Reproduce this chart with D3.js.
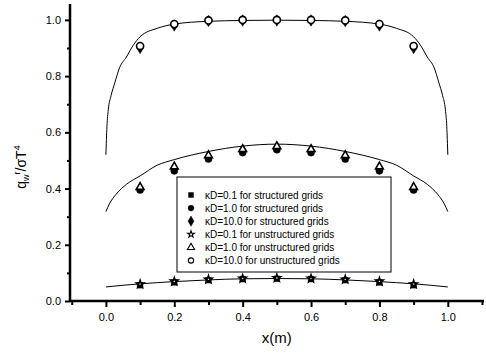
<!DOCTYPE html>
<html>
<head>
  <meta charset="utf-8" />
  <script src="https://d3js.org/d3.v7.min.js"></script>
  <style>
    body { margin: 0; background: #fff; }
    text { font-family: "Liberation Sans", Arial, sans-serif; fill: #000; }
  </style>
</head>
<body>
<script>
// marker positions
var xs = [0.1, 0.2, 0.3, 0.4, 0.5, 0.6, 0.7, 0.8, 0.9];
var s01 = [0.056, 0.066, 0.074, 0.078, 0.079, 0.078, 0.074, 0.066, 0.056];
var u01 = [0.060, 0.070, 0.077, 0.080, 0.082, 0.080, 0.077, 0.070, 0.060];
var s1  = [0.395, 0.463, 0.505, 0.528, 0.538, 0.528, 0.505, 0.463, 0.395];
var u1  = [0.405, 0.478, 0.518, 0.540, 0.550, 0.540, 0.518, 0.478, 0.405];
var s10 = [0.900, 0.980, 0.996, 0.998, 0.998, 0.998, 0.996, 0.980, 0.900];
var u10 = [0.907, 0.985, 0.998, 1.000, 1.000, 1.000, 0.998, 0.985, 0.907];

// solid curves
var cx10 = [0, 0.003, 0.007, 0.015, 0.026, 0.04, 0.06, 0.08, 0.1, 0.15, 0.2, 0.3, 0.4, 0.5, 0.6, 0.7, 0.8, 0.85, 0.9, 0.92, 0.94, 0.96, 0.974, 0.985, 0.993, 0.997, 1.0];
var cy10 = [0.52, 0.62, 0.68, 0.73, 0.776, 0.83, 0.868, 0.91, 0.94, 0.97, 0.985, 0.995, 0.998, 0.999, 0.998, 0.995, 0.985, 0.97, 0.94, 0.91, 0.868, 0.83, 0.776, 0.73, 0.68, 0.62, 0.52];
var cx1 = [0, 0.01, 0.03, 0.06, 0.1, 0.15, 0.2, 0.3, 0.4, 0.5, 0.6, 0.7, 0.8, 0.85, 0.9, 0.94, 0.97, 0.99, 1.0];
var cy1 = [0.318, 0.345, 0.38, 0.415, 0.445, 0.483, 0.503, 0.532, 0.551, 0.558, 0.551, 0.532, 0.503, 0.483, 0.445, 0.415, 0.38, 0.345, 0.318];
var cx01 = [0, 0.05, 0.1, 0.2, 0.3, 0.4, 0.5, 0.6, 0.7, 0.8, 0.9, 0.95, 1.0];
var cy01 = [0.050, 0.056, 0.061, 0.069, 0.075, 0.079, 0.080, 0.079, 0.075, 0.069, 0.061, 0.056, 0.050];

var xTicks = [0.0, 0.2, 0.4, 0.6, 0.8, 1.0];
var xMinor = [-0.1, 0.1, 0.3, 0.5, 0.7, 0.9, 1.1];
var yTicks = [0.0, 0.2, 0.4, 0.6, 0.8, 1.0];
var yMinor = [0.1, 0.3, 0.5, 0.7, 0.9];

var legendLabels = [
  "\u03baD=0.1 for structured grids",
  "\u03baD=1.0 for structured grids",
  "\u03baD=10.0 for structured grids",
  "\u03baD=0.1 for unstructured grids",
  "\u03baD=1.0 for unstructured grids",
  "\u03baD=10.0 for unstructured grids"
];

var W = 486, H = 353;
var svg = d3.select("body").append("svg").attr("width", W).attr("height", H);

var x = d3.scaleLinear().domain([-0.105, 1.1]).range([70, 482]);
var y = d3.scaleLinear().domain([0, 1.053]).range([301, 5]);

var series = [
  {v: s01, sym: d3.symbolSquare, fill: true, size: 32, lsize: 24},
  {v: s1, sym: d3.symbolCircle, fill: true, size: 40, lsize: 26},
  {v: s10, sym: d3.symbolDiamond, fill: true, size: 38, lsize: 30},
  {v: u01, sym: d3.symbolStar, fill: false, size: 16, lsize: 14},
  {v: u1, sym: d3.symbolTriangle, fill: false, size: 26, lsize: 22},
  {v: u10, sym: d3.symbolCircle, fill: false, size: 40, lsize: 22}
];

// curves
var line = d3.line().x(function(d) { return x(d[0]); }).y(function(d) { return y(d[1]); }).curve(d3.curveMonotoneX);
[[cx10, cy10], [cx1, cy1], [cx01, cy01]].forEach(function(c) {
  svg.append("path")
    .attr("d", line(d3.zip(c[0], c[1])))
    .attr("fill", "none").attr("stroke", "#000").attr("stroke-width", 1);
});

// markers
series.forEach(function(s) {
  svg.append("g").selectAll("path").data(xs).enter().append("path")
    .attr("transform", function(d, i) { return "translate(" + x(d) + "," + y(s.v[i]) + ")"; })
    .attr("d", d3.symbol().type(s.sym).size(s.size))
    .attr("fill", s.fill ? "#000" : "#fff")
    .attr("stroke", "#000")
    .attr("stroke-width", s.fill ? 0.5 : 1.6);
});

// axes
var xAxis = svg.append("g").attr("transform", "translate(0,301)")
  .call(d3.axisBottom(x).tickValues(xTicks).tickSize(6).tickPadding(6).tickFormat(d3.format(".1f")));
var xMin = svg.append("g").attr("transform", "translate(0,301)")
  .call(d3.axisBottom(x).tickValues(xMinor).tickSize(4).tickFormat(""));
var yAxis = svg.append("g").attr("transform", "translate(70,0)")
  .call(d3.axisLeft(y).tickValues(yTicks).tickSize(5).tickPadding(4).tickFormat(d3.format(".1f")));
var yMin = svg.append("g").attr("transform", "translate(70,0)")
  .call(d3.axisLeft(y).tickValues(yMinor).tickSize(3).tickFormat(""));

[xAxis, xMin, yAxis, yMin].forEach(function(a) {
  a.select(".domain").attr("stroke-width", 2.5).attr("d", null);
  a.selectAll(".tick line").attr("stroke-width", 2);
  a.selectAll("text").style("font-size", "11px").attr("font-family", "Liberation Sans, Arial, sans-serif");
});
svg.append("line").attr("x1", 70).attr("x2", 484).attr("y1", 301).attr("y2", 301)
  .attr("stroke", "#000").attr("stroke-width", 2.5);
svg.append("line").attr("x1", 70).attr("x2", 70).attr("y1", 4).attr("y2", 302)
  .attr("stroke", "#000").attr("stroke-width", 2.5);

// axis titles
svg.append("text").attr("x", x(0.5)).attr("y", 343).attr("text-anchor", "middle")
  .style("font-size", "15px").text("x(m)");
var yl = svg.append("text").attr("transform", "translate(26,167) rotate(-90)")
  .attr("text-anchor", "middle").style("font-size", "14px");
yl.append("tspan").text("q");
yl.append("tspan").attr("dy", 3).style("font-size", "9px").text("w");
yl.append("tspan").attr("dy", -9).style("font-size", "9px").text("r");
yl.append("tspan").attr("dy", 6).text("/\u03c3T");
yl.append("tspan").attr("dy", -6).style("font-size", "9px").text("4");

// legend
var lg = svg.append("g");
lg.append("rect").attr("x", 177).attr("y", 177).attr("width", 214).attr("height", 95)
  .attr("fill", "#fff").attr("stroke", "#000").attr("stroke-width", 1);
var rows = lg.selectAll("g.row").data(series).enter().append("g")
  .attr("transform", function(d, i) { return "translate(0," + (195 + i * 13.1) + ")"; });
rows.append("path")
  .attr("transform", "translate(191,0)")
  .attr("d", function(d) { return d3.symbol().type(d.sym).size(d.lsize)(); })
  .attr("fill", function(d) { return d.fill ? "#000" : "#fff"; })
  .attr("stroke", "#000").attr("stroke-width", function(d) { return d.fill ? 0.5 : 1.1; });
rows.append("text").attr("x", 205).attr("y", 3.8).style("font-size", "10px")
  .text(function(d, i) { return legendLabels[i]; });
</script>
</body>
</html>
